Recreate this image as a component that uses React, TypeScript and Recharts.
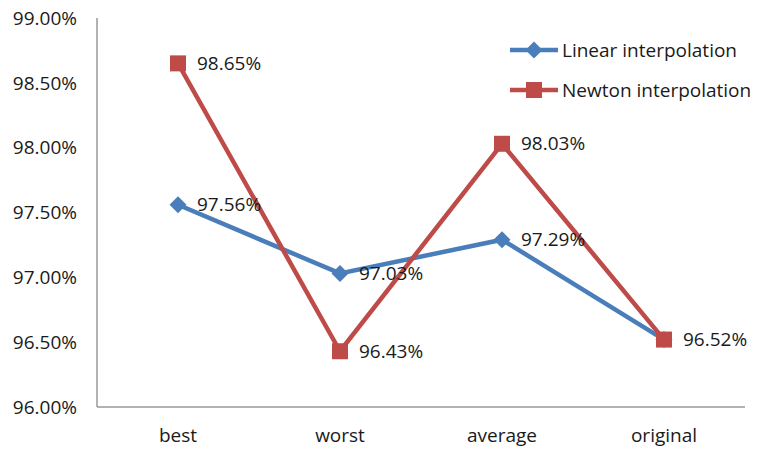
import { LineChart, Line, XAxis, YAxis } from 'recharts';

const categories = ['best', 'worst', 'average', 'original'];
const linearValues = [97.56, 97.03, 97.29, 96.52];
const newtonValues = [98.65, 96.43, 98.03, 96.52];
const yTicks = [96, 96.5, 97, 97.5, 98, 98.5, 99];

const BLUE = '#4A7EBB';
const RED = '#BE4B48';
const FONT = '"Open Sans", sans-serif';
const FS = 19;

const data = categories.map((name, i) => ({
  name,
  linear: linearValues[i],
  newton: newtonValues[i],
}));

const pct = (v: number) => `${v.toFixed(2)}%`;

const Diamond = ({ cx, cy }: any) => {
  if (cx == null || cy == null) return null;
  const r = 8.5;
  return <path d={`M${cx},${cy - r}L${cx + r},${cy}L${cx},${cy + r}L${cx - r},${cy}Z`} fill={BLUE} />;
};

const Square = ({ cx, cy }: any) => {
  if (cx == null || cy == null) return null;
  return <rect x={cx - 8} y={cy - 8} width={16} height={16} fill={RED} />;
};

// value labels sit to the right of each marker
const makeLabel = (skip: number[] = []) => (props: any) => {
  const { x, y, value, index } = props;
  if (skip.includes(index)) return null;
  return (
    <text x={x + 19} y={y} dy="0.35em" fontSize={FS} fontFamily={FONT} fill="#1a1a1a">
      {pct(value)}
    </text>
  );
};

const LegendBox = () => (
  <svg width={250} height={80} style={{ position: 'absolute', left: 508, top: 32 }}>
    <g>
      <line x1={2} y1={18} x2={50} y2={18} stroke={BLUE} strokeWidth={4.5} />
      <Diamond cx={26} cy={18} />
      <text x={54} y={18} dy="0.35em" fontSize={FS} fontFamily={FONT} fill="#1a1a1a">Linear interpolation</text>
    </g>
    <g>
      <line x1={2} y1={58} x2={50} y2={58} stroke={RED} strokeWidth={4.5} />
      <Square cx={26} cy={58} />
      <text x={54} y={58} dy="0.35em" fontSize={FS} fontFamily={FONT} fill="#1a1a1a">Newton interpolation</text>
    </g>
  </svg>
);

export default function App() {
  return (
    <div style={{ position: 'absolute', left: 0, top: 0, width: 757, height: 453, background: '#fff' }}>
      <LineChart width={757} height={453} data={data} margin={{ top: 18, right: 12, left: 0, bottom: 0 }}>
        <XAxis
          dataKey="name"
          height={46}
          padding={{ left: 81, right: 81 }}
          stroke="#999"
          strokeWidth={1.5}
          tickLine={false}
          tickSize={6}
          tickMargin={16}
          tick={{ fontSize: FS, fontFamily: FONT, fill: '#1a1a1a' }}
        />
        <YAxis
          width={97}
          domain={[96, 99]}
          ticks={yTicks}
          tickFormatter={pct}
          stroke="#999"
          strokeWidth={1.5}
          tickLine={false}
          tickSize={6}
          tickMargin={14}
          tick={{ fontSize: FS, fontFamily: FONT, fill: '#1a1a1a' }}
        />
        <Line
          type="linear"
          dataKey="linear"
          stroke={BLUE}
          strokeWidth={4.5}
          dot={<Diamond />}
          activeDot={false}
          label={makeLabel([3])}
          isAnimationActive={false}
        />
        <Line
          type="linear"
          dataKey="newton"
          stroke={RED}
          strokeWidth={4.5}
          dot={<Square />}
          activeDot={false}
          label={makeLabel()}
          isAnimationActive={false}
        />
      </LineChart>
      <LegendBox />
    </div>
  );
}
